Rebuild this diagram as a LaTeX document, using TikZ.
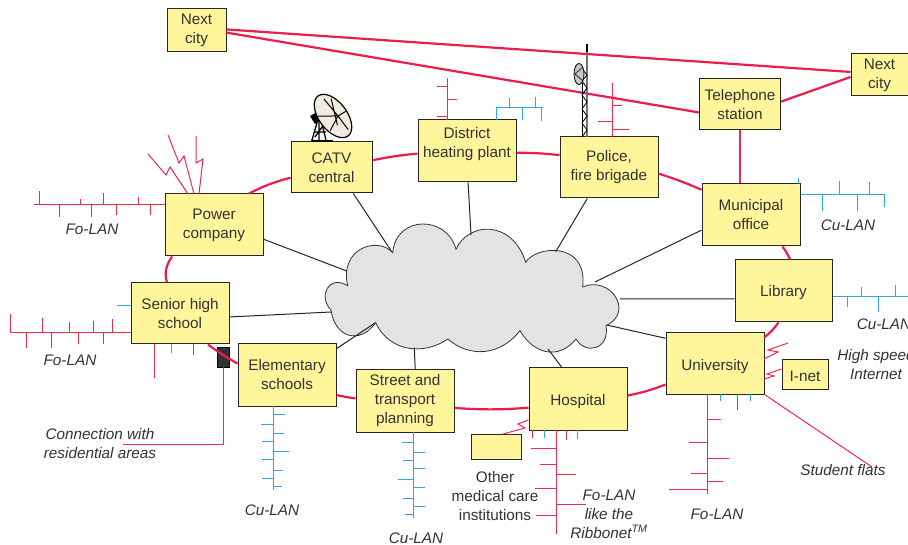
\documentclass[tikz,border=0pt]{standalone}
\usepackage{fontspec}
\setmainfont{Liberation Sans}
\usetikzlibrary{calc}
\definecolor{boxfill}{HTML}{FFF59B}
\definecolor{ringred}{HTML}{EE1C4B}
\definecolor{lanred}{HTML}{EE2A4A}
\definecolor{lanblue}{HTML}{29A9E0}
\definecolor{inkgrey}{HTML}{333333}
\definecolor{dishfill}{HTML}{EFEBE0}
\tikzset{
  every node/.style={font=\fontsize{15.3}{19}\selectfont, text=inkgrey, inner sep=0pt, align=center},
  box/.style={draw=black!85, line width=1pt, fill=boxfill,
    execute at begin node={\rule{0pt}{\dimexpr 11pt+#1pt*2\relax}}},
  box/.default=3,
  lanname/.style={font=\fontsize{15.3}{19}\selectfont\itshape},
  ring/.style={ringred, line width=2.2pt},
  spoke/.style={black!85, line width=1pt},
  folan/.style={lanred, line width=1pt},
  culan/.style={lanblue, line width=1pt}
}

\begin{document}
\begin{tikzpicture}[x=1pt,y=-1pt]
  \useasboundingbox (0,0) rectangle (908,545);
  \path[fill=white] (0,0) rectangle (908,545);

  \path[fill=black!11, draw=black!80, line width=0.8pt] (347.7,285.7)
    .. controls (339,248) and (378,236) .. (392.7,252.7)
    .. controls (396,215) and (447,215) .. (456,249.3)
    .. controls (468,222) and (512,219) .. (525.7,262.3)
    .. controls (535,246) and (588,240) .. (582.7,287)
    .. controls (610,275) and (635,312) .. (606,325.7)
    .. controls (610,350) and (585,355) .. (576,339)
    .. controls (560,359) and (535,356) .. (520,330.7)
    .. controls (500,356) and (470,358) .. (447.7,339)
    .. controls (425,355) and (390,353) .. (375.7,322.7)
    .. controls (360,345) and (335,338) .. (331,310)
    .. controls (318,297) and (328,274) .. (347.7,285.7) -- cycle;

  \node[box=3.5, minimum width=59pt, minimum height=43pt] (cityW) at (196.5,30.5) {Next\\city};
  \node[box=3.5, minimum width=57pt, minimum height=42pt] (cityE) at (879.5,75) {Next\\city};
  \node[box=1, minimum width=81pt, minimum height=51pt] (phone) at (740,104.5) {Telephone\\station};
  \node[box=4, minimum width=98pt, minimum height=62pt] (muni) at (751,215) {Municipal\\office};
  \node[box=1.5, minimum width=98pt, minimum height=61pt] (police) at (609,167.5) {Police,\\fire brigade};
  \node[box=0, minimum width=98pt, minimum height=62pt] (heat) at (467,151) {District\\heating plant\rule[-18pt]{0pt}{18pt}};
  \node[box=0.5, minimum width=81pt, minimum height=51pt] (catv) at (331.5,167.5) {CATV\\central};
  \node[box=2, minimum width=98pt, minimum height=62pt] (power) at (214,225) {Power\\company};
  \node[box=3, minimum width=98pt, minimum height=61pt] (senior) at (180,313.5) {Senior high\\school};
  \node[box=4, minimum width=98pt, minimum height=62pt] (elem) at (287,375) {Elementary\\schools};
  \node[box=3, minimum width=98pt, minimum height=62pt] (street) at (405,401) {Street and\\transport\\planning};
  \node[box=3, minimum width=98pt, minimum height=62pt] (hosp) at (578,399) {Hospital};
  \node[box=3, minimum width=98pt, minimum height=61pt] (univ) at (715,363.5) {University};
  \node[box=2, minimum width=97pt, minimum height=62pt] (lib) at (783.5,291) {Library};
  \node[box=2, minimum width=46pt, minimum height=29pt] (inet) at (805,374.5) {I-net};
  \node[box=0, minimum width=50pt, minimum height=25pt] (medic) at (496,446.5) {};
  \node[draw=black, line width=0.9pt, fill=black!80, minimum width=12pt, minimum height=20pt] (resid) at (223,357) {};

  \draw[ring] (cityW.2.9) -- (cityE.174);
  \draw[ring] (cityW.-4.8) -- (phone.191.9);
  \draw[ring] (phone.4.9) -- (cityE.184);
  \draw[draw=lanred, line width=1.5pt] (phone.south) -- (muni.north -| phone.south);
  \draw[ring] (power.42) to[bend left=6] (catv.194.5);
  \draw[ring] (catv.10.5) to[bend left=3] (heat.183.5);
  \draw[ring] (heat.-2.3) to[bend left=3] (police.166.8);
  \draw[ring] (police.-7.6) to[bend left=3] (muni.153);
  \draw[ring] (muni.-45) to[bend left=5] (lib.78);
  \draw[ring] (lib.261.7) to[bend left=8] (univ.28.4);
  \draw[ring] (univ.203.7) to[bend left=5] (hosp.4.7);
  \draw[ring] (hosp.190.4) to[bend left=4] (street.-8.1);
  \draw[ring] (street.177.7) to[bend left=3] (elem.-22.2);
  \draw[ring] (elem.167.3) to[bend left=3] (senior.-48.5);
  \draw[ring] (senior.113) to[bend left=25] (power.217);

  \foreach \e/\p in {endPower/{346.7,271}, endCatv/{391.7,251.7}, endHeat/{471,235},
    endPolice/{555.7,251.7}, endMuni/{595,282}, endLib/{620,299}, endUniv/{606.7,325},
    endHosp/{548,349}, endStreet/{414.3,347.7}, endElem/{375,323}, endSenior/{331,312}}
    \coordinate (\e) at (\p);
  \foreach \n/\a/\e in {power/-16/endPower, catv/-50/endCatv, heat/-88/endHeat,
    police/-125.8/endPolice, muni/197/endMuni, lib/189.4/endLib, univ/153.4/endUniv,
    hosp/117.3/endHosp, street/72/endStreet, elem/28/endElem, senior/-4/endSenior}
    \draw[spoke] (\n.\a) -- (\e);

  \draw[folan] (34,205) -- (power.west |- 0,205);
  \foreach \x/\y in {39/191,59/217,80/199,91/217,103/193,116/215,138/197,150/215}
    \draw[folan] (\x,205) -- (\x,\y);
  \draw[folan] (188,194) -- (170,167) -- (166,175) -- (148,154);
  \draw[folan] (194,194) -- (184,156) -- (179,163) -- (168,135);
  \draw[folan] (199,194) -- (203,159) -- (196,163) -- (196,136);

  \draw[folan] (10,333) -- (senior.west |- 0,333);
  \foreach \x/\y in {10/314,26/348,42/318,51/348,69/322,78/344,93/321,103/344,112/319}
    \draw[folan] (\x,333) -- (\x,\y);
  \draw[culan] (117,306) -- (senior.west |- 0,306);
  \draw[folan] (154,344) -- (154,378);
  \draw[culan] (171,344) -- (171,353);
  \draw[folan] (193,344) -- (193,355);
  \draw[folan] (resid.south) -- (223,444) -- (123,444);

  \draw[folan] (447,120) -- (447,78);
  \foreach \y/\x in {87/437,100/457,117/437}
    \draw[folan] (447,\y) -- (\x,\y);
  \draw[culan] (496,120) -- (496,108) -- (543,108);
  \foreach \x/\y in {509/98,522/120,535/97,541/121}
    \draw[culan] (\x,108) -- (\x,\y);

  \draw[folan] (612,137) -- (612,83);
  \foreach \y/\x in {106/622,122/598,130/629}
    \draw[folan] (612,\y) -- (\x,\y);

  \draw[culan] (muni.east |- 0,195) -- (884,195) -- (884,207);
  \draw[culan] (798,184) -- (798,178);
  \foreach \x/\y in {822/211,839/181,857/211,869/182}
    \draw[culan] (\x,195) -- (\x,\y);

  \draw[culan] (lib.east |- 0,297) -- (908,297);
  \foreach \x/\y in {847/307,861/287,878/312,895/285}
    \draw[culan] (\x,297) -- (\x,\y);

  \draw[folan] (764,359) -- (778,352) -- (768,350) -- (788,343);
  \draw[folan] (764,379) -- (774,376) -- (767,374) -- (inet.west |- 0,369);
  \draw[folan] (univ.south east) -- (872,467);

  \draw[folan] (707,394) -- (707,494);
  \foreach \y/\x in {419/721,442/689,458/729,473/691,481/723,489/669}
    \draw[folan] (707,\y) -- (\x,\y);
  \draw[culan] (720,394) -- (720,401);
  \draw[folan] (737,394) -- (737,410);
  \draw[culan] (750,394) -- (750,401);

  \draw[folan] (556,430) -- (556,534);
  \foreach \y/\x in {448/531,464/540,474/576,488/535,504/586,515/536}
    \draw[folan] (556,\y) -- (\x,\y);
  \draw[folan] (532,430) -- (532,438);
  \draw[culan] (544,430) -- (544,438);
  \draw[folan] (566,430) -- (566,440);
  \draw[culan] (577,430) -- (577,439);
  \draw[folan] (hosp.west |- 0,420) -- (518,424) -- (525,428) -- (503,434);

  \draw[culan] (273,406) -- (273,490);
  \foreach \y/\x in {414/285,424/261,433/284,441/262,451/289,459/262,470/283,478/262,486/282}
    \draw[culan] (273,\y) -- (\x,\y);

  \draw[culan] (413,432) -- (413,518);
  \foreach \y/\x in {442/402,452/425,460/403,468/425,479/398,487/425,498/403,506/425,514/405}
    \draw[culan] (413,\y) -- (\x,\y);

  \draw[black!55, line width=1.2pt] (587,137) -- (587,52);
  \draw[black, line width=1.2pt] (587,52) -- (587,44);
  \draw[black, line width=0.8pt] (582,137) -- (582,83);
  \draw[black, line width=0.8pt] (582,137) -- (587,130) -- (582,123) -- (587,116) -- (582,109)
    -- (587,102) -- (582,95) -- (587,88) -- (582,81) -- (587,75) -- (583,70);
  \draw[black, line width=0.8pt, fill=black!22] (579,74) ellipse [x radius=5pt, y radius=10.5pt];
  \draw[black, line width=0.6pt] (575,74) -- (583,67) (575,74) -- (583,81);

  \fill[black] (311,140) rectangle (333,142);
  \fill[black] (310,116) -- (317,112) -- (322,120) -- (315,124) -- cycle;
  \draw[black, line width=1.3pt] (317,123) -- (312,140) (319,122) -- (319,140) (322,124) -- (326,140)
    (314,132) -- (326,132) (315,137) -- (322,127);
  \begin{scope}[shift={(333,116)},rotate=-53]
    \draw[black, line width=1.2pt, fill=dishfill] (0,0) ellipse [x radius=25pt, y radius=14pt];
    \draw[black, line width=1pt] (-19,-3) -- (3,-4) -- (20,-4) (-9,12) -- (3,-4) -- (10,11)
      (3,-4) -- (4,-13) (-15,-9) -- (10,2);
  \end{scope}

  \node[lanname] (lanPower) at (92,229) {Fo-LAN};
  \node[lanname] (lanSenior) at (70,360) {Fo-LAN};
  \node[lanname] (lanResid) at (100,444) {Connection with\\residential areas};
  \node[lanname] (lanElem) at (272,510) {Cu-LAN};
  \node[lanname] (lanStreet) at (416,538) {Cu-LAN};
  \node[lanname] (lanMuni) at (848,225) {Cu-LAN};
  \node[lanname] (lanLib) at (884,324) {Cu-LAN};
  \node[lanname] (lanInet) at (876,365) {High speed\\Internet};
  \node[lanname] (lanFlats) at (843,470) {Student flats};
  \node[lanname] (lanUniv) at (717,514) {Fo-LAN};
  \node[lanname] (lanHosp) at (609,514) {Fo-LAN\\like the\\Ribbonet\textsuperscript{TM}};
  \node (lanMedic) at (495,496) {Other\\medical care\\institutions};
\end{tikzpicture}
\end{document}
